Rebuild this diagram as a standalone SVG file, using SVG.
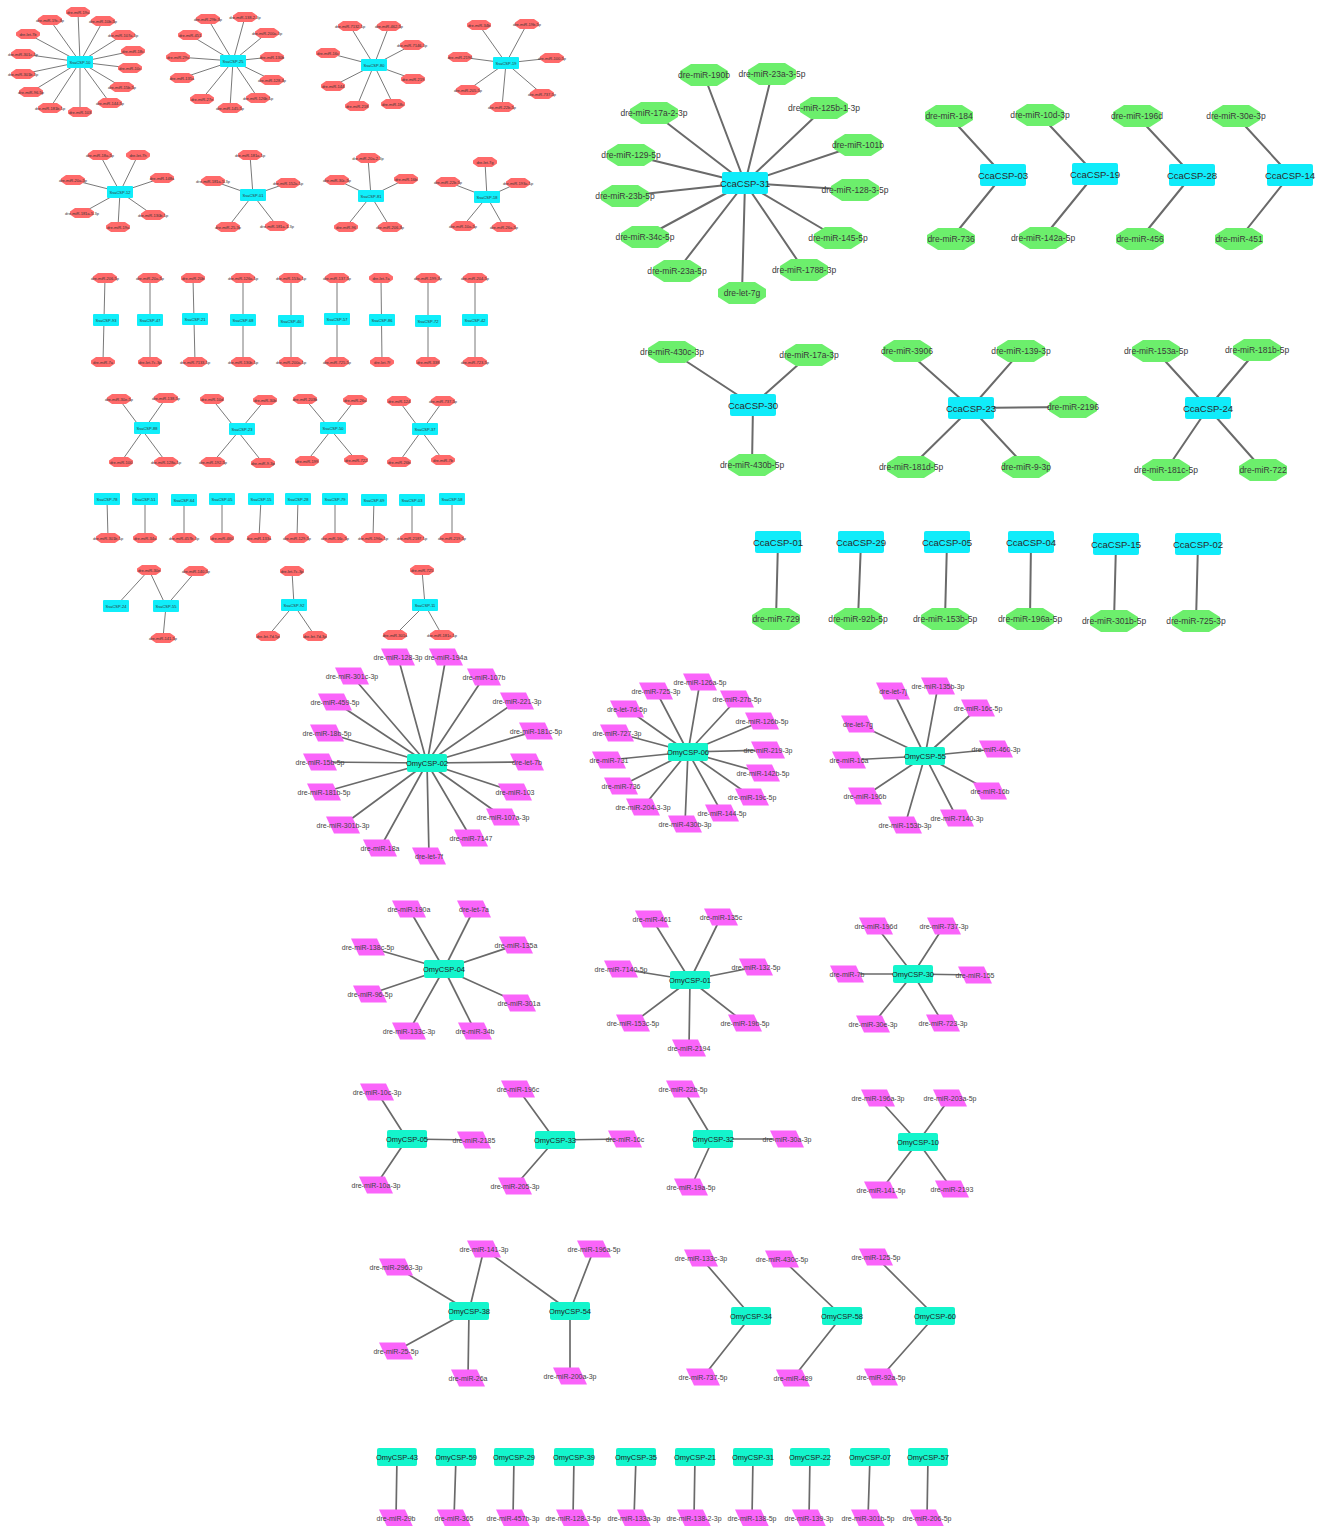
<svg xmlns="http://www.w3.org/2000/svg" xmlns:xlink="http://www.w3.org/1999/xlink" width="1322" height="1526" viewBox="0 0 1322 1526">
<style>
text{font-family:"Liberation Sans",Arial,sans-serif;text-anchor:middle;dominant-baseline:central}
.r text{font-size:4px;fill:#333}
.rC text{font-size:4px;fill:#333}
.g text{font-size:8.5px;fill:#3a3a3a}
.gC text{font-size:9.5px;fill:#2a2a2a}
.m text{font-size:7px;fill:#444}
.mC text{font-size:7.5px;fill:#222}
#edges line{stroke:#6a6a6a;stroke-linecap:round}
#er line{stroke-width:0.9}
#eg line{stroke-width:2}
#em line{stroke-width:1.7}
</style>
<defs>
<polygon id="ro" points="-7,-5 7,-5 12,-1.5 12,1.5 7,5 -7,5 -12,1.5 -12,-1.5" fill="#ff6a6a"/>
<rect id="rc" x="-13" y="-6" width="26" height="12" rx="1" fill="#10eefa"/>
<polygon id="go" points="-13,-11 13,-11 24,-4 24,4 13,11 -13,11 -24,4 -24,-4" fill="#6cef6c"/>
<rect id="gc" x="-23" y="-11" width="46" height="22" rx="2" fill="#10ecfa"/>
<polygon id="mp" points="-17,-8.5 9,-8.5 17,8.5 -9,8.5" fill="#fa64fa"/>
<rect id="mc" x="-20" y="-9" width="40" height="18" rx="2" fill="#14f5cc"/>
</defs>
<rect width="1322" height="1526" fill="#fff"/>
<g id="edges">
<g id="er">
<line x1="80" y1="62" x2="78" y2="12"/><line x1="80" y1="62" x2="103" y2="21"/><line x1="80" y1="62" x2="123" y2="35"/><line x1="80" y1="62" x2="133" y2="51"/><line x1="80" y1="62" x2="130" y2="68"/><line x1="80" y1="62" x2="122" y2="87"/><line x1="80" y1="62" x2="110" y2="103"/><line x1="80" y1="62" x2="80" y2="112"/><line x1="80" y1="62" x2="50" y2="108"/><line x1="80" y1="62" x2="31" y2="92"/><line x1="80" y1="62" x2="23" y2="74"/><line x1="80" y1="62" x2="23" y2="54"/><line x1="80" y1="62" x2="28" y2="34"/><line x1="80" y1="62" x2="50" y2="20"/>
<line x1="233" y1="61" x2="208" y2="19"/><line x1="233" y1="61" x2="245" y2="17"/><line x1="233" y1="61" x2="267" y2="33"/><line x1="233" y1="61" x2="190" y2="35"/><line x1="233" y1="61" x2="178" y2="57"/><line x1="233" y1="61" x2="272" y2="57"/><line x1="233" y1="61" x2="182" y2="78"/><line x1="233" y1="61" x2="272" y2="80"/><line x1="233" y1="61" x2="202" y2="99"/><line x1="233" y1="61" x2="230" y2="108"/><line x1="233" y1="61" x2="258" y2="98"/>
<line x1="374" y1="65" x2="350" y2="26"/><line x1="374" y1="65" x2="389" y2="26"/><line x1="374" y1="65" x2="412" y2="45"/><line x1="374" y1="65" x2="328" y2="53"/><line x1="374" y1="65" x2="413" y2="79"/><line x1="374" y1="65" x2="333" y2="86"/><line x1="374" y1="65" x2="357" y2="106"/><line x1="374" y1="65" x2="393" y2="104"/>
<line x1="506" y1="63" x2="479" y2="25"/><line x1="506" y1="63" x2="527" y2="24"/><line x1="506" y1="63" x2="460" y2="57"/><line x1="506" y1="63" x2="552" y2="58"/><line x1="506" y1="63" x2="468" y2="90"/><line x1="506" y1="63" x2="502" y2="107"/><line x1="506" y1="63" x2="542" y2="94"/>
<line x1="120" y1="192" x2="100" y2="155"/><line x1="120" y1="192" x2="138" y2="155"/><line x1="120" y1="192" x2="73" y2="180"/><line x1="120" y1="192" x2="162" y2="178"/><line x1="120" y1="192" x2="82" y2="213"/><line x1="120" y1="192" x2="153" y2="215"/><line x1="120" y1="192" x2="118" y2="227"/>
<line x1="253" y1="195" x2="250" y2="155"/><line x1="253" y1="195" x2="213" y2="181"/><line x1="253" y1="195" x2="288" y2="183"/><line x1="253" y1="195" x2="228" y2="227"/><line x1="253" y1="195" x2="277" y2="226"/>
<line x1="371" y1="196" x2="368" y2="158"/><line x1="371" y1="196" x2="337" y2="180"/><line x1="371" y1="196" x2="406" y2="179"/><line x1="371" y1="196" x2="346" y2="227"/><line x1="371" y1="196" x2="390" y2="227"/>
<line x1="487" y1="197" x2="485" y2="162"/><line x1="487" y1="197" x2="448" y2="182"/><line x1="487" y1="197" x2="518" y2="183"/><line x1="487" y1="197" x2="463" y2="226"/><line x1="487" y1="197" x2="504" y2="227"/>
<line x1="105" y1="278" x2="103" y2="362"/><line x1="150" y1="278" x2="150" y2="362"/><line x1="193" y1="278" x2="195" y2="362"/><line x1="243" y1="278" x2="243" y2="362"/><line x1="291" y1="278" x2="291" y2="362"/><line x1="337" y1="278" x2="337" y2="362"/><line x1="381" y1="278" x2="382" y2="362"/><line x1="428" y1="278" x2="428" y2="362"/><line x1="475" y1="278" x2="475" y2="362"/>
<line x1="119" y1="399" x2="166" y2="462"/><line x1="166" y1="398" x2="121" y2="462"/>
<line x1="212" y1="399" x2="263" y2="463"/><line x1="265" y1="400" x2="213" y2="462"/>
<line x1="305" y1="399" x2="356" y2="460"/><line x1="355" y1="400" x2="307" y2="461"/>
<line x1="399" y1="401" x2="443" y2="460"/><line x1="443" y1="401" x2="399" y2="462"/>
<line x1="107" y1="499" x2="108" y2="538"/><line x1="145" y1="499" x2="145" y2="538"/><line x1="184" y1="499" x2="184" y2="538"/><line x1="222" y1="499" x2="222" y2="538"/><line x1="261" y1="499" x2="259" y2="538"/><line x1="298" y1="499" x2="297" y2="538"/><line x1="335" y1="499" x2="335" y2="538"/><line x1="374" y1="499" x2="373" y2="538"/><line x1="412" y1="499" x2="412" y2="538"/><line x1="452" y1="499" x2="452" y2="538"/>
<line x1="116" y1="606" x2="149" y2="570"/><line x1="166" y1="606" x2="149" y2="570"/><line x1="166" y1="606" x2="196" y2="571"/><line x1="166" y1="606" x2="163" y2="638"/>
<line x1="294" y1="605" x2="292" y2="571"/><line x1="294" y1="605" x2="268" y2="636"/><line x1="294" y1="605" x2="315" y2="636"/>
<line x1="425" y1="605" x2="422" y2="570"/><line x1="425" y1="605" x2="395" y2="635"/><line x1="425" y1="605" x2="442" y2="635"/>
</g>
<g id="eg">
<line x1="745" y1="183" x2="704" y2="75"/><line x1="745" y1="183" x2="772" y2="74"/><line x1="745" y1="183" x2="654" y2="113"/><line x1="745" y1="183" x2="824" y2="108"/><line x1="745" y1="183" x2="858" y2="145"/><line x1="745" y1="183" x2="631" y2="155"/><line x1="745" y1="183" x2="855" y2="190"/><line x1="745" y1="183" x2="625" y2="196"/><line x1="745" y1="183" x2="645" y2="237"/><line x1="745" y1="183" x2="838" y2="238"/><line x1="745" y1="183" x2="677" y2="271"/><line x1="745" y1="183" x2="804" y2="270"/><line x1="745" y1="183" x2="742" y2="293"/>
<line x1="949" y1="116" x2="1003" y2="175"/><line x1="1003" y1="175" x2="951" y2="239"/>
<line x1="1040" y1="115" x2="1095" y2="174"/><line x1="1095" y1="174" x2="1043" y2="238"/>
<line x1="1137" y1="116" x2="1192" y2="175"/><line x1="1192" y1="175" x2="1140" y2="239"/>
<line x1="1236" y1="116" x2="1290" y2="175"/><line x1="1290" y1="175" x2="1239" y2="239"/>
<line x1="753" y1="405" x2="672" y2="352"/><line x1="753" y1="405" x2="809" y2="355"/><line x1="753" y1="405" x2="752" y2="465"/>
<line x1="971" y1="408" x2="907" y2="351"/><line x1="971" y1="408" x2="1021" y2="351"/><line x1="971" y1="408" x2="1073" y2="407"/><line x1="971" y1="408" x2="911" y2="467"/><line x1="971" y1="408" x2="1026" y2="467"/>
<line x1="1208" y1="408" x2="1156" y2="351"/><line x1="1208" y1="408" x2="1257" y2="350"/><line x1="1208" y1="408" x2="1166" y2="470"/><line x1="1208" y1="408" x2="1263" y2="470"/>
<line x1="778" y1="542" x2="776" y2="619"/><line x1="861" y1="542" x2="858" y2="619"/><line x1="947" y1="542" x2="945" y2="619"/><line x1="1031" y1="542" x2="1030" y2="619"/><line x1="1116" y1="544" x2="1114" y2="621"/><line x1="1198" y1="544" x2="1196" y2="621"/>
</g>
<g id="em">
<line x1="427" y1="763" x2="398" y2="657"/><line x1="427" y1="763" x2="446" y2="657"/><line x1="427" y1="763" x2="352" y2="676"/><line x1="427" y1="763" x2="484" y2="677"/><line x1="427" y1="763" x2="335" y2="702"/><line x1="427" y1="763" x2="517" y2="701"/><line x1="427" y1="763" x2="327" y2="733"/><line x1="427" y1="763" x2="536" y2="731"/><line x1="427" y1="763" x2="320" y2="762"/><line x1="427" y1="763" x2="527" y2="762"/><line x1="427" y1="763" x2="324" y2="792"/><line x1="427" y1="763" x2="515" y2="792"/><line x1="427" y1="763" x2="343" y2="825"/><line x1="427" y1="763" x2="503" y2="817"/><line x1="427" y1="763" x2="380" y2="848"/><line x1="427" y1="763" x2="471" y2="838"/><line x1="427" y1="763" x2="429" y2="856"/>
<line x1="688" y1="752" x2="700" y2="682"/><line x1="688" y1="752" x2="656" y2="691"/><line x1="688" y1="752" x2="737" y2="699"/><line x1="688" y1="752" x2="627" y2="709"/><line x1="688" y1="752" x2="762" y2="721"/><line x1="688" y1="752" x2="617" y2="733"/><line x1="688" y1="752" x2="768" y2="750"/><line x1="688" y1="752" x2="609" y2="760"/><line x1="688" y1="752" x2="763" y2="773"/><line x1="688" y1="752" x2="621" y2="786"/><line x1="688" y1="752" x2="752" y2="797"/><line x1="688" y1="752" x2="643" y2="807"/><line x1="688" y1="752" x2="722" y2="813"/><line x1="688" y1="752" x2="685" y2="824"/>
<line x1="925" y1="756" x2="893" y2="691"/><line x1="925" y1="756" x2="938" y2="686"/><line x1="925" y1="756" x2="978" y2="708"/><line x1="925" y1="756" x2="858" y2="724"/><line x1="925" y1="756" x2="996" y2="749"/><line x1="925" y1="756" x2="849" y2="760"/><line x1="925" y1="756" x2="865" y2="796"/><line x1="925" y1="756" x2="990" y2="791"/><line x1="925" y1="756" x2="905" y2="825"/><line x1="925" y1="756" x2="957" y2="818"/>
<line x1="444" y1="969" x2="409" y2="909"/><line x1="444" y1="969" x2="474" y2="909"/><line x1="444" y1="969" x2="368" y2="947"/><line x1="444" y1="969" x2="516" y2="945"/><line x1="444" y1="969" x2="370" y2="994"/><line x1="444" y1="969" x2="519" y2="1003"/><line x1="444" y1="969" x2="409" y2="1031"/><line x1="444" y1="969" x2="475" y2="1031"/>
<line x1="690" y1="980" x2="652" y2="919"/><line x1="690" y1="980" x2="721" y2="917"/><line x1="690" y1="980" x2="621" y2="969"/><line x1="690" y1="980" x2="756" y2="967"/><line x1="690" y1="980" x2="633" y2="1023"/><line x1="690" y1="980" x2="745" y2="1023"/><line x1="690" y1="980" x2="689" y2="1048"/>
<line x1="913" y1="974" x2="876" y2="926"/><line x1="913" y1="974" x2="944" y2="926"/><line x1="913" y1="974" x2="847" y2="974"/><line x1="913" y1="974" x2="975" y2="975"/><line x1="913" y1="974" x2="873" y2="1024"/><line x1="913" y1="974" x2="943" y2="1023"/>
<line x1="407" y1="1139" x2="377" y2="1092"/><line x1="407" y1="1139" x2="474" y2="1140"/><line x1="407" y1="1139" x2="376" y2="1185"/>
<line x1="555" y1="1140" x2="518" y2="1089"/><line x1="555" y1="1140" x2="625" y2="1139"/><line x1="555" y1="1140" x2="515" y2="1186"/>
<line x1="713" y1="1139" x2="683" y2="1089"/><line x1="713" y1="1139" x2="787" y2="1139"/><line x1="713" y1="1139" x2="691" y2="1187"/>
<line x1="918" y1="1142" x2="878" y2="1098"/><line x1="918" y1="1142" x2="950" y2="1098"/><line x1="918" y1="1142" x2="881" y2="1190"/><line x1="918" y1="1142" x2="952" y2="1189"/>
<line x1="469" y1="1311" x2="396" y2="1267"/><line x1="469" y1="1311" x2="484" y2="1249"/><line x1="570" y1="1311" x2="484" y2="1249"/><line x1="570" y1="1311" x2="594" y2="1249"/><line x1="469" y1="1311" x2="396" y2="1351"/><line x1="469" y1="1311" x2="468" y2="1378"/><line x1="570" y1="1311" x2="570" y2="1376"/>
<line x1="751" y1="1316" x2="701" y2="1258"/><line x1="751" y1="1316" x2="703" y2="1377"/>
<line x1="842" y1="1316" x2="782" y2="1259"/><line x1="842" y1="1316" x2="793" y2="1378"/>
<line x1="935" y1="1316" x2="876" y2="1257"/><line x1="935" y1="1316" x2="881" y2="1377"/>
<line x1="397" y1="1457" x2="396" y2="1518"/><line x1="456" y1="1457" x2="454" y2="1518"/><line x1="514" y1="1457" x2="513" y2="1518"/><line x1="574" y1="1457" x2="573" y2="1518"/><line x1="636" y1="1457" x2="634" y2="1518"/><line x1="695" y1="1457" x2="694" y2="1518"/><line x1="753" y1="1457" x2="752" y2="1518"/><line x1="810" y1="1457" x2="809" y2="1518"/><line x1="870" y1="1457" x2="868" y2="1518"/><line x1="928" y1="1457" x2="927" y2="1518"/>
</g>
</g>

<g id="ssa-mirna" class="r">
<g id="r1-1" transform="translate(78,12)"><use href="#ro"/><text>dre-miR-19a</text></g>
<g id="r1-2" transform="translate(103,21)"><use href="#ro"/><text>dre-miR-10b-5p</text></g>
<g id="r1-3" transform="translate(123,35)"><use href="#ro"/><text>dre-miR-107a-3p</text></g>
<g id="r1-4" transform="translate(133,51)"><use href="#ro"/><text>dre-miR-18c</text></g>
<g id="r1-5" transform="translate(130,68)"><use href="#ro"/><text>dre-miR-10c</text></g>
<g id="r1-6" transform="translate(122,87)"><use href="#ro"/><text>dre-miR-15b-5p</text></g>
<g id="r1-7" transform="translate(110,103)"><use href="#ro"/><text>dre-miR-144-5p</text></g>
<g id="r1-8" transform="translate(80,112)"><use href="#ro"/><text>dre-miR-103</text></g>
<g id="r1-9" transform="translate(50,108)"><use href="#ro"/><text>dre-miR-181b-5p</text></g>
<g id="r1-10" transform="translate(31,92)"><use href="#ro"/><text>dre-miR-96-5p</text></g>
<g id="r1-11" transform="translate(23,74)"><use href="#ro"/><text>dre-miR-301b-3p</text></g>
<g id="r1-12" transform="translate(23,54)"><use href="#ro"/><text>dre-miR-301c-3p</text></g>
<g id="r1-13" transform="translate(28,34)"><use href="#ro"/><text>dre-let-7b</text></g>
<g id="r1-14" transform="translate(50,20)"><use href="#ro"/><text>dre-miR-19c-3p</text></g>
<g id="r2-1" transform="translate(208,19)"><use href="#ro"/><text>dre-miR-29b-3p</text></g>
<g id="r2-2" transform="translate(245,17)"><use href="#ro"/><text>dre-miR-138-2-3p</text></g>
<g id="r2-3" transform="translate(267,33)"><use href="#ro"/><text>dre-miR-200a-3p</text></g>
<g id="r2-4" transform="translate(190,35)"><use href="#ro"/><text>dre-miR-451</text></g>
<g id="r2-5" transform="translate(178,57)"><use href="#ro"/><text>dre-miR-29a</text></g>
<g id="r2-6" transform="translate(272,57)"><use href="#ro"/><text>dre-miR-130b</text></g>
<g id="r2-7" transform="translate(182,78)"><use href="#ro"/><text>dre-miR-135a</text></g>
<g id="r2-8" transform="translate(272,80)"><use href="#ro"/><text>dre-miR-128-3p</text></g>
<g id="r2-9" transform="translate(202,99)"><use href="#ro"/><text>dre-miR-27e</text></g>
<g id="r2-10" transform="translate(230,108)"><use href="#ro"/><text>dre-miR-145-5p</text></g>
<g id="r2-11" transform="translate(258,98)"><use href="#ro"/><text>dre-miR-126b-5p</text></g>
<g id="r3-1" transform="translate(350,26)"><use href="#ro"/><text>dre-miR-7132-5p</text></g>
<g id="r3-2" transform="translate(389,26)"><use href="#ro"/><text>dre-miR-462-5p</text></g>
<g id="r3-3" transform="translate(412,45)"><use href="#ro"/><text>dre-miR-7146-3p</text></g>
<g id="r3-4" transform="translate(328,53)"><use href="#ro"/><text>dre-miR-16c</text></g>
<g id="r3-5" transform="translate(413,79)"><use href="#ro"/><text>dre-miR-219</text></g>
<g id="r3-6" transform="translate(333,86)"><use href="#ro"/><text>dre-miR-144</text></g>
<g id="r3-7" transform="translate(357,106)"><use href="#ro"/><text>dre-miR-218</text></g>
<g id="r3-8" transform="translate(393,104)"><use href="#ro"/><text>dre-miR-18c</text></g>
<g id="r4-1" transform="translate(479,25)"><use href="#ro"/><text>dre-miR-34b</text></g>
<g id="r4-2" transform="translate(527,24)"><use href="#ro"/><text>dre-miR-19b-5p</text></g>
<g id="r4-3" transform="translate(460,57)"><use href="#ro"/><text>dre-miR-2190</text></g>
<g id="r4-4" transform="translate(552,58)"><use href="#ro"/><text>dre-miR-100-5p</text></g>
<g id="r4-5" transform="translate(468,90)"><use href="#ro"/><text>dre-miR-205-5p</text></g>
<g id="r4-6" transform="translate(502,107)"><use href="#ro"/><text>dre-miR-22b-5p</text></g>
<g id="r4-7" transform="translate(542,94)"><use href="#ro"/><text>dre-miR-737-5p</text></g>
<g id="r5-1" transform="translate(100,155)"><use href="#ro"/><text>dre-miR-18a-5p</text></g>
<g id="r5-2" transform="translate(138,155)"><use href="#ro"/><text>dre-let-7h</text></g>
<g id="r5-3" transform="translate(73,180)"><use href="#ro"/><text>dre-miR-20a-5p</text></g>
<g id="r5-4" transform="translate(162,178)"><use href="#ro"/><text>dre-miR-148a</text></g>
<g id="r5-5" transform="translate(82,213)"><use href="#ro"/><text>dre-miR-181a-5-3p</text></g>
<g id="r5-6" transform="translate(153,215)"><use href="#ro"/><text>dre-miR-130b-5p</text></g>
<g id="r5-7" transform="translate(118,227)"><use href="#ro"/><text>dre-miR-19a</text></g>
<g id="r6-1" transform="translate(250,155)"><use href="#ro"/><text>dre-miR-181a-5p</text></g>
<g id="r6-2" transform="translate(213,181)"><use href="#ro"/><text>dre-miR-181a-5-3p</text></g>
<g id="r6-3" transform="translate(288,183)"><use href="#ro"/><text>dre-miR-152a-5p</text></g>
<g id="r6-4" transform="translate(228,227)"><use href="#ro"/><text>dre-miR-25-3p</text></g>
<g id="r6-5" transform="translate(277,226)"><use href="#ro"/><text>dre-miR-181a-1-3p</text></g>
<g id="r7-1" transform="translate(368,158)"><use href="#ro"/><text>dre-miR-20a-2-3p</text></g>
<g id="r7-2" transform="translate(337,180)"><use href="#ro"/><text>dre-miR-30c-5p</text></g>
<g id="r7-3" transform="translate(406,179)"><use href="#ro"/><text>dre-miR-16b</text></g>
<g id="r7-4" transform="translate(346,227)"><use href="#ro"/><text>dre-miR-96</text></g>
<g id="r7-5" transform="translate(390,227)"><use href="#ro"/><text>dre-miR-206-3p</text></g>
<g id="r8-1" transform="translate(485,162)"><use href="#ro"/><text>dre-let-7g</text></g>
<g id="r8-2" transform="translate(448,182)"><use href="#ro"/><text>dre-miR-22b-5p</text></g>
<g id="r8-3" transform="translate(518,183)"><use href="#ro"/><text>dre-miR-193a-5p</text></g>
<g id="r8-4" transform="translate(463,226)"><use href="#ro"/><text>dre-miR-10a-5p</text></g>
<g id="r8-5" transform="translate(504,227)"><use href="#ro"/><text>dre-miR-26a-5p</text></g>
<g id="r9-1" transform="translate(105,278)"><use href="#ro"/><text>dre-miR-206-5p</text></g>
<g id="r9-2" transform="translate(103,362)"><use href="#ro"/><text>dre-miR-7a</text></g>
<g id="r9-3" transform="translate(150,278)"><use href="#ro"/><text>dre-miR-20a-5p</text></g>
<g id="r9-4" transform="translate(150,362)"><use href="#ro"/><text>dre-let-7c-3p</text></g>
<g id="r9-5" transform="translate(193,278)"><use href="#ro"/><text>dre-miR-20b</text></g>
<g id="r9-6" transform="translate(195,362)"><use href="#ro"/><text>dre-miR-7133-5p</text></g>
<g id="r9-7" transform="translate(243,278)"><use href="#ro"/><text>dre-miR-126a-5p</text></g>
<g id="r9-8" transform="translate(243,362)"><use href="#ro"/><text>dre-miR-130b-5p</text></g>
<g id="r9-9" transform="translate(291,278)"><use href="#ro"/><text>dre-miR-153a-5p</text></g>
<g id="r9-10" transform="translate(291,362)"><use href="#ro"/><text>dre-miR-200a-5p</text></g>
<g id="r9-11" transform="translate(337,278)"><use href="#ro"/><text>dre-miR-137-5p</text></g>
<g id="r9-12" transform="translate(337,362)"><use href="#ro"/><text>dre-miR-725-5p</text></g>
<g id="r9-13" transform="translate(381,278)"><use href="#ro"/><text>dre-let-7a</text></g>
<g id="r9-14" transform="translate(382,362)"><use href="#ro"/><text>dre-let-7f</text></g>
<g id="r9-15" transform="translate(428,278)"><use href="#ro"/><text>dre-miR-199-3p</text></g>
<g id="r9-16" transform="translate(428,362)"><use href="#ro"/><text>dre-miR-338</text></g>
<g id="r9-17" transform="translate(475,278)"><use href="#ro"/><text>dre-miR-204-5p</text></g>
<g id="r9-18" transform="translate(475,362)"><use href="#ro"/><text>dre-miR-723-5p</text></g>
<g id="r10-1" transform="translate(119,399)"><use href="#ro"/><text>dre-miR-30e-5p</text></g>
<g id="r10-2" transform="translate(166,398)"><use href="#ro"/><text>dre-miR-138-5p</text></g>
<g id="r10-3" transform="translate(121,462)"><use href="#ro"/><text>dre-miR-100</text></g>
<g id="r10-4" transform="translate(166,462)"><use href="#ro"/><text>dre-miR-128a-5p</text></g>
<g id="r10-5" transform="translate(212,399)"><use href="#ro"/><text>dre-miR-10d</text></g>
<g id="r10-6" transform="translate(265,400)"><use href="#ro"/><text>dre-miR-30b</text></g>
<g id="r10-7" transform="translate(213,462)"><use href="#ro"/><text>dre-miR-192-5p</text></g>
<g id="r10-8" transform="translate(263,463)"><use href="#ro"/><text>dre-miR-9-3p</text></g>
<g id="r10-9" transform="translate(305,399)"><use href="#ro"/><text>dre-miR-203b</text></g>
<g id="r10-10" transform="translate(355,400)"><use href="#ro"/><text>dre-miR-26a</text></g>
<g id="r10-11" transform="translate(307,461)"><use href="#ro"/><text>dre-miR-199</text></g>
<g id="r10-12" transform="translate(356,460)"><use href="#ro"/><text>dre-miR-722</text></g>
<g id="r10-13" transform="translate(399,401)"><use href="#ro"/><text>dre-miR-124</text></g>
<g id="r10-14" transform="translate(443,401)"><use href="#ro"/><text>dre-miR-737-5p</text></g>
<g id="r10-15" transform="translate(399,462)"><use href="#ro"/><text>dre-miR-26b</text></g>
<g id="r10-16" transform="translate(443,460)"><use href="#ro"/><text>dre-miR-7b</text></g>
<g id="r11-1" transform="translate(108,538)"><use href="#ro"/><text>dre-miR-301b-5p</text></g>
<g id="r11-2" transform="translate(145,538)"><use href="#ro"/><text>dre-miR-34a</text></g>
<g id="r11-3" transform="translate(184,538)"><use href="#ro"/><text>dre-miR-457b-3p</text></g>
<g id="r11-4" transform="translate(222,538)"><use href="#ro"/><text>dre-miR-460</text></g>
<g id="r11-5" transform="translate(259,538)"><use href="#ro"/><text>dre-miR-133a</text></g>
<g id="r11-6" transform="translate(297,538)"><use href="#ro"/><text>dre-miR-129-5p</text></g>
<g id="r11-7" transform="translate(335,538)"><use href="#ro"/><text>dre-miR-16c-5p</text></g>
<g id="r11-8" transform="translate(373,538)"><use href="#ro"/><text>dre-miR-196a-5p</text></g>
<g id="r11-9" transform="translate(412,538)"><use href="#ro"/><text>dre-miR-2187-5p</text></g>
<g id="r11-10" transform="translate(452,538)"><use href="#ro"/><text>dre-miR-219-5p</text></g>
<g id="r12-1" transform="translate(149,570)"><use href="#ro"/><text>dre-miR-30e</text></g>
<g id="r12-2" transform="translate(196,571)"><use href="#ro"/><text>dre-miR-140-5p</text></g>
<g id="r12-3" transform="translate(163,638)"><use href="#ro"/><text>dre-miR-141-5p</text></g>
<g id="r12-4" transform="translate(292,571)"><use href="#ro"/><text>dre-let-7c-3p</text></g>
<g id="r12-5" transform="translate(268,636)"><use href="#ro"/><text>dre-let-7d-5p</text></g>
<g id="r12-6" transform="translate(315,636)"><use href="#ro"/><text>dre-let-7d-3p</text></g>
<g id="r12-7" transform="translate(422,570)"><use href="#ro"/><text>dre-miR-725</text></g>
<g id="r12-8" transform="translate(395,635)"><use href="#ro"/><text>dre-miR-301a</text></g>
<g id="r12-9" transform="translate(442,635)"><use href="#ro"/><text>dre-miR-181c-5p</text></g>
</g>

<g id="ssa-csp" class="rC">
<g id="SsaCSP-10" transform="translate(80,62)"><use href="#rc"/><text>SsaCSP-10</text></g>
<g id="SsaCSP-25" transform="translate(233,61)"><use href="#rc"/><text>SsaCSP-25</text></g>
<g id="SsaCSP-80" transform="translate(374,65)"><use href="#rc"/><text>SsaCSP-80</text></g>
<g id="SsaCSP-19" transform="translate(506,63)"><use href="#rc"/><text>SsaCSP-19</text></g>
<g id="SsaCSP-12" transform="translate(120,192)"><use href="#rc"/><text>SsaCSP-12</text></g>
<g id="SsaCSP-01" transform="translate(253,195)"><use href="#rc"/><text>SsaCSP-01</text></g>
<g id="SsaCSP-81" transform="translate(371,196)"><use href="#rc"/><text>SsaCSP-81</text></g>
<g id="SsaCSP-18" transform="translate(487,197)"><use href="#rc"/><text>SsaCSP-18</text></g>
<g id="SsaCSP-93" transform="translate(106,320)"><use href="#rc"/><text>SsaCSP-93</text></g>
<g id="SsaCSP-47" transform="translate(150,320)"><use href="#rc"/><text>SsaCSP-47</text></g>
<g id="SsaCSP-21" transform="translate(195,319)"><use href="#rc"/><text>SsaCSP-21</text></g>
<g id="SsaCSP-68" transform="translate(243,320)"><use href="#rc"/><text>SsaCSP-68</text></g>
<g id="SsaCSP-40" transform="translate(291,321)"><use href="#rc"/><text>SsaCSP-40</text></g>
<g id="SsaCSP-57" transform="translate(337,319)"><use href="#rc"/><text>SsaCSP-57</text></g>
<g id="SsaCSP-86" transform="translate(382,320)"><use href="#rc"/><text>SsaCSP-86</text></g>
<g id="SsaCSP-72" transform="translate(428,321)"><use href="#rc"/><text>SsaCSP-72</text></g>
<g id="SsaCSP-42" transform="translate(475,320)"><use href="#rc"/><text>SsaCSP-42</text></g>
<g id="SsaCSP-88" transform="translate(147,428)"><use href="#rc"/><text>SsaCSP-88</text></g>
<g id="SsaCSP-23" transform="translate(242,429)"><use href="#rc"/><text>SsaCSP-23</text></g>
<g id="SsaCSP-50" transform="translate(333,428)"><use href="#rc"/><text>SsaCSP-50</text></g>
<g id="SsaCSP-37" transform="translate(425,429)"><use href="#rc"/><text>SsaCSP-37</text></g>
<g id="SsaCSP-78" transform="translate(107,499)"><use href="#rc"/><text>SsaCSP-78</text></g>
<g id="SsaCSP-51" transform="translate(145,499)"><use href="#rc"/><text>SsaCSP-51</text></g>
<g id="SsaCSP-64" transform="translate(184,500)"><use href="#rc"/><text>SsaCSP-64</text></g>
<g id="SsaCSP-05" transform="translate(222,499)"><use href="#rc"/><text>SsaCSP-05</text></g>
<g id="SsaCSP-15" transform="translate(261,499)"><use href="#rc"/><text>SsaCSP-15</text></g>
<g id="SsaCSP-28" transform="translate(298,499)"><use href="#rc"/><text>SsaCSP-28</text></g>
<g id="SsaCSP-79" transform="translate(335,499)"><use href="#rc"/><text>SsaCSP-79</text></g>
<g id="SsaCSP-69" transform="translate(374,500)"><use href="#rc"/><text>SsaCSP-69</text></g>
<g id="SsaCSP-03" transform="translate(412,500)"><use href="#rc"/><text>SsaCSP-03</text></g>
<g id="SsaCSP-58" transform="translate(452,499)"><use href="#rc"/><text>SsaCSP-58</text></g>
<g id="SsaCSP-24" transform="translate(116,606)"><use href="#rc"/><text>SsaCSP-24</text></g>
<g id="SsaCSP-55" transform="translate(166,606)"><use href="#rc"/><text>SsaCSP-55</text></g>
<g id="SsaCSP-92" transform="translate(294,605)"><use href="#rc"/><text>SsaCSP-92</text></g>
<g id="SsaCSP-11" transform="translate(425,605)"><use href="#rc"/><text>SsaCSP-11</text></g>
</g>

<g id="cca-mirna" class="g">
<g id="g1-1" transform="translate(704,75)"><use href="#go"/><text>dre-miR-190b</text></g>
<g id="g1-2" transform="translate(772,74)"><use href="#go"/><text>dre-miR-23a-3-5p</text></g>
<g id="g1-3" transform="translate(654,113)"><use href="#go"/><text>dre-miR-17a-2-3p</text></g>
<g id="g1-4" transform="translate(824,108)"><use href="#go"/><text>dre-miR-125b-1-3p</text></g>
<g id="g1-5" transform="translate(858,145)"><use href="#go"/><text>dre-miR-101b</text></g>
<g id="g1-6" transform="translate(631,155)"><use href="#go"/><text>dre-miR-129-5p</text></g>
<g id="g1-7" transform="translate(855,190)"><use href="#go"/><text>dre-miR-128-3-5p</text></g>
<g id="g1-8" transform="translate(625,196)"><use href="#go"/><text>dre-miR-23b-5p</text></g>
<g id="g1-9" transform="translate(645,237)"><use href="#go"/><text>dre-miR-34c-5p</text></g>
<g id="g1-10" transform="translate(838,238)"><use href="#go"/><text>dre-miR-145-5p</text></g>
<g id="g1-11" transform="translate(677,271)"><use href="#go"/><text>dre-miR-23a-5p</text></g>
<g id="g1-12" transform="translate(804,270)"><use href="#go"/><text>dre-miR-1788-3p</text></g>
<g id="g1-13" transform="translate(742,293)"><use href="#go"/><text>dre-let-7g</text></g>
<g id="g2-1" transform="translate(949,116)"><use href="#go"/><text>dre-miR-184</text></g>
<g id="g2-2" transform="translate(951,239)"><use href="#go"/><text>dre-miR-736</text></g>
<g id="g2-3" transform="translate(1040,115)"><use href="#go"/><text>dre-miR-10d-3p</text></g>
<g id="g2-4" transform="translate(1043,238)"><use href="#go"/><text>dre-miR-142a-5p</text></g>
<g id="g2-5" transform="translate(1137,116)"><use href="#go"/><text>dre-miR-196d</text></g>
<g id="g2-6" transform="translate(1140,239)"><use href="#go"/><text>dre-miR-456</text></g>
<g id="g2-7" transform="translate(1236,116)"><use href="#go"/><text>dre-miR-30e-3p</text></g>
<g id="g2-8" transform="translate(1239,239)"><use href="#go"/><text>dre-miR-451</text></g>
<g id="g3-1" transform="translate(672,352)"><use href="#go"/><text>dre-miR-430c-3p</text></g>
<g id="g3-2" transform="translate(809,355)"><use href="#go"/><text>dre-miR-17a-3p</text></g>
<g id="g3-3" transform="translate(752,465)"><use href="#go"/><text>dre-miR-430b-5p</text></g>
<g id="g3-4" transform="translate(907,351)"><use href="#go"/><text>dre-miR-3906</text></g>
<g id="g3-5" transform="translate(1021,351)"><use href="#go"/><text>dre-miR-139-3p</text></g>
<g id="g3-6" transform="translate(1073,407)"><use href="#go"/><text>dre-miR-2196</text></g>
<g id="g3-7" transform="translate(911,467)"><use href="#go"/><text>dre-miR-181d-5p</text></g>
<g id="g3-8" transform="translate(1026,467)"><use href="#go"/><text>dre-miR-9-3p</text></g>
<g id="g3-9" transform="translate(1156,351)"><use href="#go"/><text>dre-miR-153a-5p</text></g>
<g id="g3-10" transform="translate(1257,350)"><use href="#go"/><text>dre-miR-181b-5p</text></g>
<g id="g3-11" transform="translate(1166,470)"><use href="#go"/><text>dre-miR-181c-5p</text></g>
<g id="g3-12" transform="translate(1263,470)"><use href="#go"/><text>dre-miR-722</text></g>
<g id="g4-1" transform="translate(776,619)"><use href="#go"/><text>dre-miR-729</text></g>
<g id="g4-2" transform="translate(858,619)"><use href="#go"/><text>dre-miR-92b-5p</text></g>
<g id="g4-3" transform="translate(945,619)"><use href="#go"/><text>dre-miR-153b-5p</text></g>
<g id="g4-4" transform="translate(1030,619)"><use href="#go"/><text>dre-miR-196a-5p</text></g>
<g id="g4-5" transform="translate(1114,621)"><use href="#go"/><text>dre-miR-301b-5p</text></g>
<g id="g4-6" transform="translate(1196,621)"><use href="#go"/><text>dre-miR-725-3p</text></g>
</g>

<g id="cca-csp" class="gC">
<g id="CcaCSP-31" transform="translate(745,183)"><use href="#gc"/><text>CcaCSP-31</text></g>
<g id="CcaCSP-03" transform="translate(1003,175)"><use href="#gc"/><text>CcaCSP-03</text></g>
<g id="CcaCSP-19" transform="translate(1095,174)"><use href="#gc"/><text>CcaCSP-19</text></g>
<g id="CcaCSP-28" transform="translate(1192,175)"><use href="#gc"/><text>CcaCSP-28</text></g>
<g id="CcaCSP-14" transform="translate(1290,175)"><use href="#gc"/><text>CcaCSP-14</text></g>
<g id="CcaCSP-30" transform="translate(753,405)"><use href="#gc"/><text>CcaCSP-30</text></g>
<g id="CcaCSP-23" transform="translate(971,408)"><use href="#gc"/><text>CcaCSP-23</text></g>
<g id="CcaCSP-24" transform="translate(1208,408)"><use href="#gc"/><text>CcaCSP-24</text></g>
<g id="CcaCSP-01" transform="translate(778,542)"><use href="#gc"/><text>CcaCSP-01</text></g>
<g id="CcaCSP-29" transform="translate(861,542)"><use href="#gc"/><text>CcaCSP-29</text></g>
<g id="CcaCSP-05" transform="translate(947,542)"><use href="#gc"/><text>CcaCSP-05</text></g>
<g id="CcaCSP-04" transform="translate(1031,542)"><use href="#gc"/><text>CcaCSP-04</text></g>
<g id="CcaCSP-15" transform="translate(1116,544)"><use href="#gc"/><text>CcaCSP-15</text></g>
<g id="CcaCSP-02" transform="translate(1198,544)"><use href="#gc"/><text>CcaCSP-02</text></g>
</g>

<g id="omy-mirna" class="m">
<g id="m1-1" transform="translate(398,657)"><use href="#mp"/><text>dre-miR-128-3p</text></g>
<g id="m1-2" transform="translate(446,657)"><use href="#mp"/><text>dre-miR-194a</text></g>
<g id="m1-3" transform="translate(352,676)"><use href="#mp"/><text>dre-miR-301c-3p</text></g>
<g id="m1-4" transform="translate(484,677)"><use href="#mp"/><text>dre-miR-107b</text></g>
<g id="m1-5" transform="translate(335,702)"><use href="#mp"/><text>dre-miR-459-5p</text></g>
<g id="m1-6" transform="translate(517,701)"><use href="#mp"/><text>dre-miR-221-3p</text></g>
<g id="m1-7" transform="translate(327,733)"><use href="#mp"/><text>dre-miR-18b-5p</text></g>
<g id="m1-8" transform="translate(536,731)"><use href="#mp"/><text>dre-miR-181c-5p</text></g>
<g id="m1-9" transform="translate(320,762)"><use href="#mp"/><text>dre-miR-15b-5p</text></g>
<g id="m1-10" transform="translate(527,762)"><use href="#mp"/><text>dre-let-7b</text></g>
<g id="m1-11" transform="translate(324,792)"><use href="#mp"/><text>dre-miR-181b-5p</text></g>
<g id="m1-12" transform="translate(515,792)"><use href="#mp"/><text>dre-miR-103</text></g>
<g id="m1-13" transform="translate(343,825)"><use href="#mp"/><text>dre-miR-301b-3p</text></g>
<g id="m1-14" transform="translate(503,817)"><use href="#mp"/><text>dre-miR-107a-3p</text></g>
<g id="m1-15" transform="translate(380,848)"><use href="#mp"/><text>dre-miR-18a</text></g>
<g id="m1-16" transform="translate(471,838)"><use href="#mp"/><text>dre-miR-7147</text></g>
<g id="m1-17" transform="translate(429,856)"><use href="#mp"/><text>dre-let-7f</text></g>
<g id="m2-1" transform="translate(700,682)"><use href="#mp"/><text>dre-miR-126a-5p</text></g>
<g id="m2-2" transform="translate(656,691)"><use href="#mp"/><text>dre-miR-725-3p</text></g>
<g id="m2-3" transform="translate(737,699)"><use href="#mp"/><text>dre-miR-27b-5p</text></g>
<g id="m2-4" transform="translate(627,709)"><use href="#mp"/><text>dre-let-7d-5p</text></g>
<g id="m2-5" transform="translate(762,721)"><use href="#mp"/><text>dre-miR-126b-5p</text></g>
<g id="m2-6" transform="translate(617,733)"><use href="#mp"/><text>dre-miR-727-3p</text></g>
<g id="m2-7" transform="translate(768,750)"><use href="#mp"/><text>dre-miR-219-3p</text></g>
<g id="m2-8" transform="translate(609,760)"><use href="#mp"/><text>dre-miR-731</text></g>
<g id="m2-9" transform="translate(763,773)"><use href="#mp"/><text>dre-miR-142b-5p</text></g>
<g id="m2-10" transform="translate(621,786)"><use href="#mp"/><text>dre-miR-736</text></g>
<g id="m2-11" transform="translate(752,797)"><use href="#mp"/><text>dre-miR-19c-5p</text></g>
<g id="m2-12" transform="translate(643,807)"><use href="#mp"/><text>dre-miR-204-3-3p</text></g>
<g id="m2-13" transform="translate(722,813)"><use href="#mp"/><text>dre-miR-144-5p</text></g>
<g id="m2-14" transform="translate(685,824)"><use href="#mp"/><text>dre-miR-430b-3p</text></g>
<g id="m3-1" transform="translate(893,691)"><use href="#mp"/><text>dre-let-7j</text></g>
<g id="m3-2" transform="translate(938,686)"><use href="#mp"/><text>dre-miR-135b-3p</text></g>
<g id="m3-3" transform="translate(978,708)"><use href="#mp"/><text>dre-miR-16c-5p</text></g>
<g id="m3-4" transform="translate(858,724)"><use href="#mp"/><text>dre-let-7g</text></g>
<g id="m3-5" transform="translate(996,749)"><use href="#mp"/><text>dre-miR-460-3p</text></g>
<g id="m3-6" transform="translate(849,760)"><use href="#mp"/><text>dre-miR-16a</text></g>
<g id="m3-7" transform="translate(865,796)"><use href="#mp"/><text>dre-miR-196b</text></g>
<g id="m3-8" transform="translate(990,791)"><use href="#mp"/><text>dre-miR-16b</text></g>
<g id="m3-9" transform="translate(905,825)"><use href="#mp"/><text>dre-miR-153b-3p</text></g>
<g id="m3-10" transform="translate(957,818)"><use href="#mp"/><text>dre-miR-7140-3p</text></g>
<g id="m4-1" transform="translate(409,909)"><use href="#mp"/><text>dre-miR-190a</text></g>
<g id="m4-2" transform="translate(474,909)"><use href="#mp"/><text>dre-let-7a</text></g>
<g id="m4-3" transform="translate(368,947)"><use href="#mp"/><text>dre-miR-138c-5p</text></g>
<g id="m4-4" transform="translate(516,945)"><use href="#mp"/><text>dre-miR-135a</text></g>
<g id="m4-5" transform="translate(370,994)"><use href="#mp"/><text>dre-miR-96-5p</text></g>
<g id="m4-6" transform="translate(519,1003)"><use href="#mp"/><text>dre-miR-301a</text></g>
<g id="m4-7" transform="translate(409,1031)"><use href="#mp"/><text>dre-miR-133c-3p</text></g>
<g id="m4-8" transform="translate(475,1031)"><use href="#mp"/><text>dre-miR-34b</text></g>
<g id="m5-1" transform="translate(652,919)"><use href="#mp"/><text>dre-miR-461</text></g>
<g id="m5-2" transform="translate(721,917)"><use href="#mp"/><text>dre-miR-135c</text></g>
<g id="m5-3" transform="translate(621,969)"><use href="#mp"/><text>dre-miR-7140-5p</text></g>
<g id="m5-4" transform="translate(756,967)"><use href="#mp"/><text>dre-miR-132-5p</text></g>
<g id="m5-5" transform="translate(633,1023)"><use href="#mp"/><text>dre-miR-153c-5p</text></g>
<g id="m5-6" transform="translate(745,1023)"><use href="#mp"/><text>dre-miR-19b-5p</text></g>
<g id="m5-7" transform="translate(689,1048)"><use href="#mp"/><text>dre-miR-2194</text></g>
<g id="m6-1" transform="translate(876,926)"><use href="#mp"/><text>dre-miR-196d</text></g>
<g id="m6-2" transform="translate(944,926)"><use href="#mp"/><text>dre-miR-737-3p</text></g>
<g id="m6-3" transform="translate(847,974)"><use href="#mp"/><text>dre-miR-7b</text></g>
<g id="m6-4" transform="translate(975,975)"><use href="#mp"/><text>dre-miR-155</text></g>
<g id="m6-5" transform="translate(873,1024)"><use href="#mp"/><text>dre-miR-30e-3p</text></g>
<g id="m6-6" transform="translate(943,1023)"><use href="#mp"/><text>dre-miR-723-3p</text></g>
<g id="m7-1" transform="translate(377,1092)"><use href="#mp"/><text>dre-miR-10c-3p</text></g>
<g id="m7-2" transform="translate(474,1140)"><use href="#mp"/><text>dre-miR-2185</text></g>
<g id="m7-3" transform="translate(376,1185)"><use href="#mp"/><text>dre-miR-10a-3p</text></g>
<g id="m7-4" transform="translate(518,1089)"><use href="#mp"/><text>dre-miR-196c</text></g>
<g id="m7-5" transform="translate(625,1139)"><use href="#mp"/><text>dre-miR-16c</text></g>
<g id="m7-6" transform="translate(515,1186)"><use href="#mp"/><text>dre-miR-205-3p</text></g>
<g id="m7-7" transform="translate(683,1089)"><use href="#mp"/><text>dre-miR-22b-5p</text></g>
<g id="m7-8" transform="translate(787,1139)"><use href="#mp"/><text>dre-miR-30a-3p</text></g>
<g id="m7-9" transform="translate(691,1187)"><use href="#mp"/><text>dre-miR-19a-5p</text></g>
<g id="m7-10" transform="translate(878,1098)"><use href="#mp"/><text>dre-miR-196a-3p</text></g>
<g id="m7-11" transform="translate(950,1098)"><use href="#mp"/><text>dre-miR-203a-5p</text></g>
<g id="m7-12" transform="translate(881,1190)"><use href="#mp"/><text>dre-miR-141-5p</text></g>
<g id="m7-13" transform="translate(952,1189)"><use href="#mp"/><text>dre-miR-2193</text></g>
<g id="m8-1" transform="translate(396,1267)"><use href="#mp"/><text>dre-miR-2963-3p</text></g>
<g id="m8-2" transform="translate(484,1249)"><use href="#mp"/><text>dre-miR-141-3p</text></g>
<g id="m8-3" transform="translate(594,1249)"><use href="#mp"/><text>dre-miR-196a-5p</text></g>
<g id="m8-4" transform="translate(396,1351)"><use href="#mp"/><text>dre-miR-25-5p</text></g>
<g id="m8-5" transform="translate(468,1378)"><use href="#mp"/><text>dre-miR-26a</text></g>
<g id="m8-6" transform="translate(570,1376)"><use href="#mp"/><text>dre-miR-200a-3p</text></g>
<g id="m8-7" transform="translate(701,1258)"><use href="#mp"/><text>dre-miR-133c-3p</text></g>
<g id="m8-8" transform="translate(703,1377)"><use href="#mp"/><text>dre-miR-737-5p</text></g>
<g id="m8-9" transform="translate(782,1259)"><use href="#mp"/><text>dre-miR-430c-5p</text></g>
<g id="m8-10" transform="translate(793,1378)"><use href="#mp"/><text>dre-miR-489</text></g>
<g id="m8-11" transform="translate(876,1257)"><use href="#mp"/><text>dre-miR-125-5p</text></g>
<g id="m8-12" transform="translate(881,1377)"><use href="#mp"/><text>dre-miR-92a-5p</text></g>
<g id="m9-1" transform="translate(396,1518)"><use href="#mp"/><text>dre-miR-29b</text></g>
<g id="m9-2" transform="translate(454,1518)"><use href="#mp"/><text>dre-miR-365</text></g>
<g id="m9-3" transform="translate(513,1518)"><use href="#mp"/><text>dre-miR-457b-3p</text></g>
<g id="m9-4" transform="translate(573,1518)"><use href="#mp"/><text>dre-miR-128-3-5p</text></g>
<g id="m9-5" transform="translate(634,1518)"><use href="#mp"/><text>dre-miR-133a-3p</text></g>
<g id="m9-6" transform="translate(694,1518)"><use href="#mp"/><text>dre-miR-138-2-3p</text></g>
<g id="m9-7" transform="translate(752,1518)"><use href="#mp"/><text>dre-miR-138-5p</text></g>
<g id="m9-8" transform="translate(809,1518)"><use href="#mp"/><text>dre-miR-139-3p</text></g>
<g id="m9-9" transform="translate(868,1518)"><use href="#mp"/><text>dre-miR-301b-5p</text></g>
<g id="m9-10" transform="translate(927,1518)"><use href="#mp"/><text>dre-miR-206-5p</text></g>
</g>

<g id="omy-csp" class="mC">
<g id="OmyCSP-02" transform="translate(427,763)"><use href="#mc"/><text>OmyCSP-02</text></g>
<g id="OmyCSP-06" transform="translate(688,752)"><use href="#mc"/><text>OmyCSP-06</text></g>
<g id="OmyCSP-55" transform="translate(925,756)"><use href="#mc"/><text>OmyCSP-55</text></g>
<g id="OmyCSP-04" transform="translate(444,969)"><use href="#mc"/><text>OmyCSP-04</text></g>
<g id="OmyCSP-01" transform="translate(690,980)"><use href="#mc"/><text>OmyCSP-01</text></g>
<g id="OmyCSP-30" transform="translate(913,974)"><use href="#mc"/><text>OmyCSP-30</text></g>
<g id="OmyCSP-05" transform="translate(407,1139)"><use href="#mc"/><text>OmyCSP-05</text></g>
<g id="OmyCSP-33" transform="translate(555,1140)"><use href="#mc"/><text>OmyCSP-33</text></g>
<g id="OmyCSP-32" transform="translate(713,1139)"><use href="#mc"/><text>OmyCSP-32</text></g>
<g id="OmyCSP-10" transform="translate(918,1142)"><use href="#mc"/><text>OmyCSP-10</text></g>
<g id="OmyCSP-38" transform="translate(469,1311)"><use href="#mc"/><text>OmyCSP-38</text></g>
<g id="OmyCSP-54" transform="translate(570,1311)"><use href="#mc"/><text>OmyCSP-54</text></g>
<g id="OmyCSP-34" transform="translate(751,1316)"><use href="#mc"/><text>OmyCSP-34</text></g>
<g id="OmyCSP-58" transform="translate(842,1316)"><use href="#mc"/><text>OmyCSP-58</text></g>
<g id="OmyCSP-60" transform="translate(935,1316)"><use href="#mc"/><text>OmyCSP-60</text></g>
<g id="OmyCSP-43" transform="translate(397,1457)"><use href="#mc"/><text>OmyCSP-43</text></g>
<g id="OmyCSP-59" transform="translate(456,1457)"><use href="#mc"/><text>OmyCSP-59</text></g>
<g id="OmyCSP-29" transform="translate(514,1457)"><use href="#mc"/><text>OmyCSP-29</text></g>
<g id="OmyCSP-39" transform="translate(574,1457)"><use href="#mc"/><text>OmyCSP-39</text></g>
<g id="OmyCSP-35" transform="translate(636,1457)"><use href="#mc"/><text>OmyCSP-35</text></g>
<g id="OmyCSP-21" transform="translate(695,1457)"><use href="#mc"/><text>OmyCSP-21</text></g>
<g id="OmyCSP-31" transform="translate(753,1457)"><use href="#mc"/><text>OmyCSP-31</text></g>
<g id="OmyCSP-22" transform="translate(810,1457)"><use href="#mc"/><text>OmyCSP-22</text></g>
<g id="OmyCSP-07" transform="translate(870,1457)"><use href="#mc"/><text>OmyCSP-07</text></g>
<g id="OmyCSP-57" transform="translate(928,1457)"><use href="#mc"/><text>OmyCSP-57</text></g>
</g>
</svg>
